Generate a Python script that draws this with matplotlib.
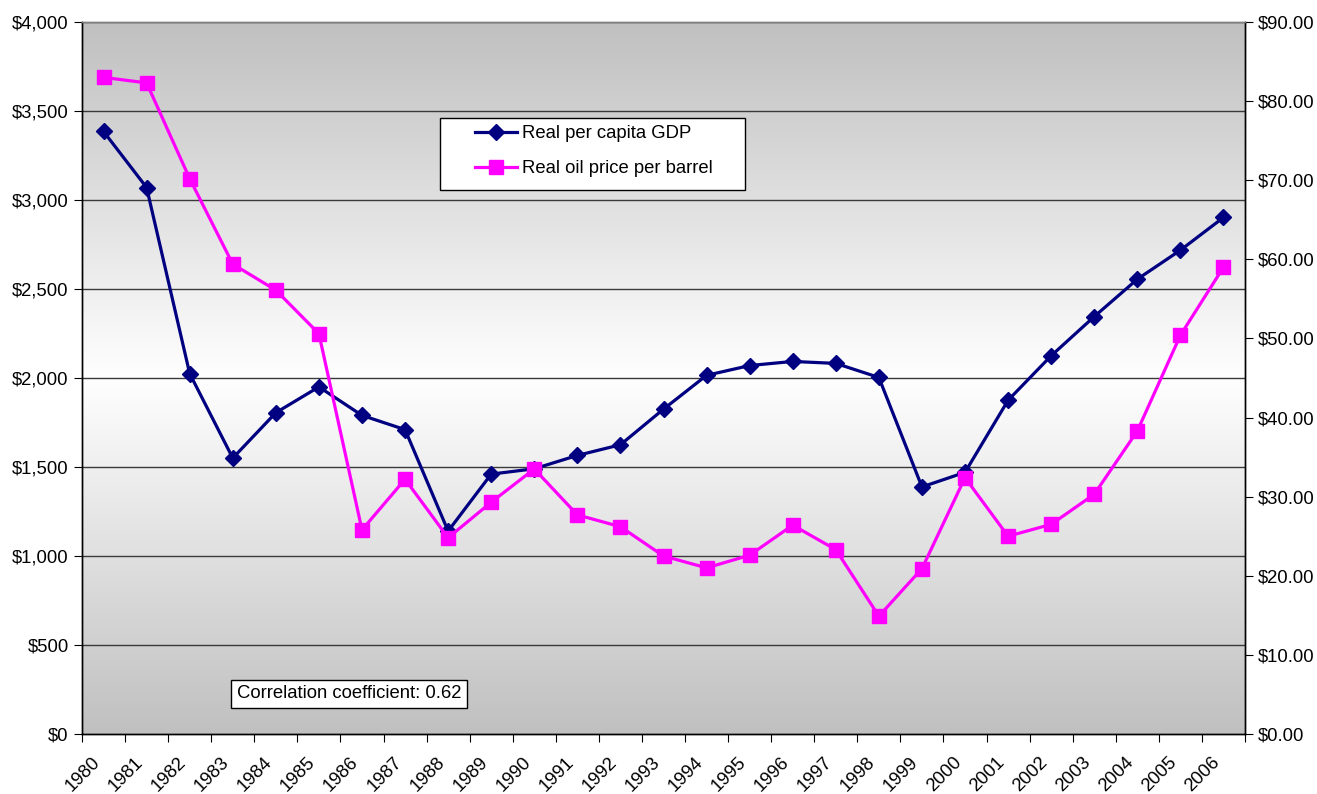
import numpy as np
import matplotlib.pyplot as plt
from matplotlib.colors import LinearSegmentedColormap
from matplotlib.patches import Rectangle
from matplotlib.ticker import FuncFormatter, FixedLocator

plt.rcParams['font.family'] = ['Liberation Sans', 'DejaVu Sans']

# data
years = list(range(1980, 2007))
gdp = [3385, 3070, 2025, 1550, 1805, 1950, 1790, 1710, 1140, 1460,
       1490, 1565, 1625, 1825, 2015, 2070, 2093, 2082, 2003, 1388,
       1470, 1875, 2125, 2345, 2555, 2718, 2902]
oil = [83.0, 82.3, 70.2, 59.4, 56.1, 50.6, 25.8, 32.2, 24.8, 29.3,
       33.5, 27.7, 26.2, 22.5, 21.0, 22.6, 26.4, 23.3, 14.9, 20.9,
       32.4, 25.0, 26.5, 30.3, 38.3, 50.4, 59.0]

gdp_label = 'Real per capita GDP'
oil_label = 'Real oil price per barrel'
note = 'Correlation coefficient: 0.62'

W, H = 1317, 794
FS = 13.3

fig = plt.figure(figsize=(W / 100, H / 100), dpi=100)
ax = fig.add_axes([82 / W, 60 / H, 1163 / W, 712 / H])
ax2 = ax.twinx()

# gray - white - gray background
cmap = LinearSegmentedColormap.from_list('bg', ['#c0c0c0', '#ffffff', '#c0c0c0'])
grad = np.linspace(0, 1, 256).reshape(-1, 1)
ax.imshow(grad, cmap=cmap, aspect='auto', extent=[0, 1, 0, 1],
          transform=ax.transAxes, zorder=0)

x = np.arange(len(years))
ax.set_xlim(-0.5, len(years) - 0.5)
ax.set_ylim(0, 4000)
ax2.set_ylim(0, 90)

for v in range(500, 4001, 500):
    ax.axhline(v, color='#3a3a3a', lw=1.0, zorder=1)

l1, = ax.plot(x, gdp, color='#000080', lw=2.3, marker='D', ms=8.5, zorder=3,
              label=gdp_label)
l2, = ax2.plot(x, oil, color='#ff00ff', lw=2.3, marker='s', ms=10, zorder=3,
               label=oil_label)

# category boundaries as ticks, labels near centers (nudged left like Excel)
ax.xaxis.set_major_locator(FixedLocator(np.arange(-0.5, len(years), 1.0)))
ax.xaxis.set_minor_locator(FixedLocator(x - 0.28))
ax.set_xticklabels([])
ax.set_xticklabels([str(y) for y in years], minor=True, rotation=45,
                   ha='right', va='top', rotation_mode='anchor', fontsize=FS)
ax.tick_params(axis='x', which='minor', length=0, pad=14)
ax.tick_params(axis='x', which='major', length=6, direction='out')

ax.set_yticks(np.arange(0, 4001, 500))
ax.yaxis.set_major_formatter(FuncFormatter(lambda v, p: '${:,.0f}'.format(v)))
ax.tick_params(axis='y', labelsize=FS, length=6, direction='out')
ax2.set_yticks(np.arange(0, 91, 10))
ax2.yaxis.set_major_formatter(FuncFormatter(lambda v, p: '${:.2f}'.format(v)))
ax2.tick_params(axis='y', labelsize=FS, length=6, direction='out')

for a in (ax, ax2):
    for s in a.spines.values():
        s.set_color('black')
        s.set_linewidth(1.0)
    a.spines['top'].set_color('#808080')

# legend box drawn by hand so the wide side padding matches
box = Rectangle((440 / W, 1 - 190 / H), 305 / W, 72 / H, transform=fig.transFigure,
                facecolor='white', edgecolor='black', lw=1.0, zorder=4)
ax2.add_patch(box)
box.set_clip_on(False)
leg = ax2.legend(handles=[l1, l2], loc='upper left',
                 bbox_to_anchor=(475 / W, 1 - 125 / H),
                 bbox_transform=fig.transFigure,
                 fontsize=FS, frameon=False, borderpad=0,
                 labelspacing=1.0, handlelength=2.27, handletextpad=0.27,
                 borderaxespad=0)
leg.set_zorder(5)

ax2.text((349 - 82) / 1163, (734 - 694) / 712, note, transform=ax.transAxes,
         ha='center', va='center', fontsize=FS, zorder=5,
         bbox=dict(boxstyle='square,pad=0.3', facecolor='white',
                   edgecolor='black', lw=1.0))

fig.savefig('out.png', dpi=100)
